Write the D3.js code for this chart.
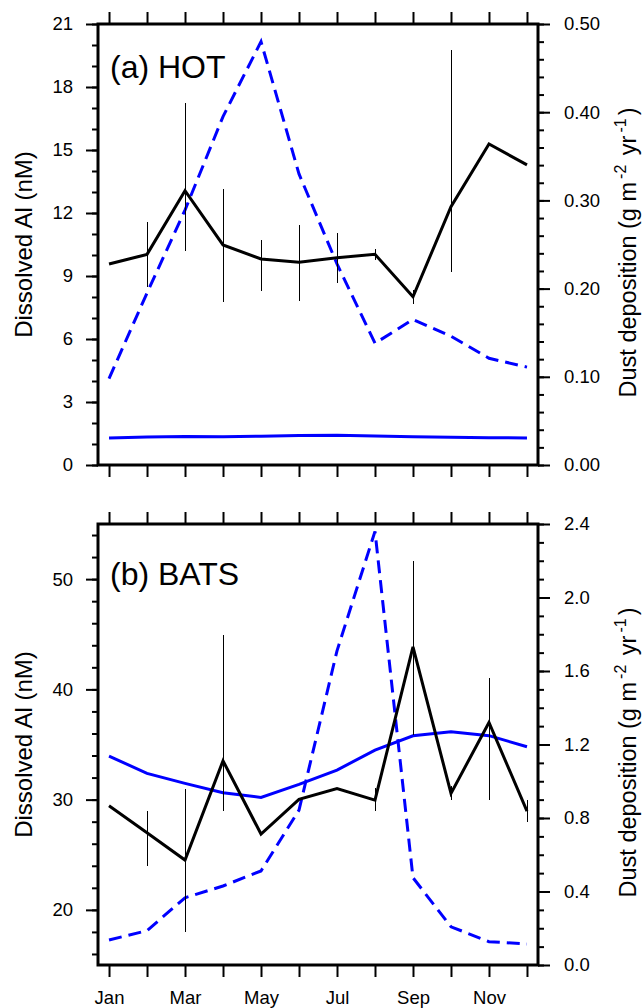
<!DOCTYPE html>
<html><head><meta charset="utf-8">
<script src="https://cdn.jsdelivr.net/npm/d3@7"></script>
<style>
body{margin:0;background:#fff}
text{font-family:"Liberation Sans",Arial,Helvetica,sans-serif;fill:#000}
</style>
</head><body><svg id="c" width="642" height="1008"></svg>
<script>
// ---------------- data ----------------
const months = [1,2,3,4,5,6,7,8,9,10,11,12];
const monthNames = ["Jan","Feb","Mar","Apr","May","Jun","Jul","Aug","Sep","Oct","Nov","Dec"];
const xLabelMonths = [1,3,5,7,9,11];

// (a) HOT
const hotObsAl  = [9.57,10.03,13.06,10.48,9.81,9.65,9.87,10.03,8.01,12.30,15.29,14.29];
const hotErrLo  = [null,8.46,10.19,7.78,8.29,7.82,8.68,9.76,7.67,9.20,null,null];
const hotErrHi  = [null,11.59,17.22,13.14,10.71,11.43,11.03,10.29,8.33,19.76,null,null];
const hotModAl  = [1.28,1.33,1.36,1.34,1.37,1.40,1.42,1.38,1.35,1.32,1.30,1.29];
const hotDust   = [0.098,0.195,0.289,0.395,0.480,0.330,0.228,0.138,0.165,0.146,0.121,0.111];
const hotLeftTicks  = [0,3,6,9,12,15,18,21];
const hotLeftMinor  = d3.range(0,22,1);
const hotRightTicks = [0,0.1,0.2,0.3,0.4,0.5];
const hotRightMinor = d3.range(0,0.5001,0.02);

// (b) BATS
const batsObsAl = [29.44,27.0,24.52,33.52,26.88,30.02,31.0,29.96,43.86,30.57,37.0,28.96];
const batsErrLo = [null,23.98,17.96,28.96,null,null,null,28.96,35.85,29.96,29.96,28.0];
const batsErrHi = [null,28.96,30.96,44.95,null,null,null,31.05,51.6,31.2,41.0,29.96];
const batsModAl = [33.95,32.38,31.47,30.62,30.2,31.38,32.68,34.49,35.79,36.15,35.8,34.8];
const batsDust  = [0.136,0.187,0.366,0.43,0.512,0.843,1.71,2.36,0.475,0.208,0.127,0.114];
const batsLeftTicks  = [20,30,40,50];
const batsLeftMinor  = d3.range(16,55,2);
const batsRightTicks = [0,0.4,0.8,1.2,1.6,2.0,2.4];
const batsRightMinor = d3.range(0,2.4001,0.1);

// ---------------- drawing ----------------
const svg = d3.select("#c");
const X0 = 98, X1 = 538;
const FS = 18.5;
const x = d3.scaleLinear().domain([0.71,12.29]).range([X0,X1]);

function panel(o){
  const g = svg.append("g");
  const yL = d3.scaleLinear().domain(o.leftDomain).range([o.bottom,o.top]);
  const yR = d3.scaleLinear().domain(o.rightDomain).range([o.bottom,o.top]);

  // minor ticks
  const mL = g.append("g").attr("transform",`translate(${X0},0)`)
    .call(d3.axisLeft(yL).tickValues(o.leftMinor).tickSize(6).tickFormat(""));
  const mR = g.append("g").attr("transform",`translate(${X1},0)`)
    .call(d3.axisRight(yR).tickValues(o.rightMinor).tickSize(6).tickFormat(""));
  // major ticks
  const aL = g.append("g").attr("transform",`translate(${X0},0)`)
    .call(d3.axisLeft(yL).tickValues(o.leftTicks).tickSize(12).tickPadding(13).tickFormat(d3.format("d")));
  const aR = g.append("g").attr("transform",`translate(${X1},0)`)
    .call(d3.axisRight(yR).tickValues(o.rightTicks).tickSize(12).tickPadding(14).tickFormat(d3.format(o.rightFmt)));
  const aT = g.append("g").attr("transform",`translate(0,${o.top})`)
    .call(d3.axisTop(x).tickValues(months).tickSize(12).tickFormat(""));
  const aB = g.append("g").attr("transform",`translate(0,${o.bottom})`)
    .call(d3.axisBottom(x).tickValues(months).tickSize(12).tickPadding(14)
      .tickFormat(d => o.xLabels && xLabelMonths.includes(d) ? monthNames[d-1] : ""));
  [mL,mR,aL,aR,aT,aB].forEach(a=>{
    a.select(".domain").remove();
    a.selectAll("line").attr("stroke","#000").attr("stroke-width",2);
    a.selectAll("text").attr("font-size",FS).attr("font-family",'"Liberation Sans",Arial,sans-serif').attr("fill","#000");
  });

  // dust dashed (right axis)
  g.append("path").datum(o.dust)
    .attr("fill","none").attr("stroke","#0000ff").attr("stroke-width",3)
    .attr("stroke-dasharray","13,7")
    .attr("d", d3.line().x((d,i)=>x(months[i])).y(d=>yR(d)));
  // model Al (left axis)
  g.append("path").datum(o.mod)
    .attr("fill","none").attr("stroke","#0000ff").attr("stroke-width",3)
    .attr("d", d3.line().x((d,i)=>x(months[i])).y(d=>yL(d)));
  // observed Al
  g.append("path").datum(o.obs)
    .attr("fill","none").attr("stroke","#000").attr("stroke-width",3).attr("stroke-linejoin","miter")
    .attr("d", d3.line().x((d,i)=>x(months[i])).y(d=>yL(d)));
  // error bars
  months.forEach((m,i)=>{
    if(o.lo[i]==null) return;
    const xx = Math.round(x(m)) + 0.5;
    g.append("line").attr("x1",xx).attr("x2",xx)
      .attr("y1",yL(o.lo[i])).attr("y2",yL(o.hi[i]))
      .attr("stroke","#000").attr("stroke-width",1).attr("shape-rendering","crispEdges");
  });

  // frame
  g.append("rect").attr("x",X0).attr("y",o.top).attr("width",X1-X0).attr("height",o.bottom-o.top)
    .attr("fill","none").attr("stroke","#000").attr("stroke-width",3);

  // panel label
  g.append("text").attr("x",110).attr("y",o.labelY).attr("font-size",32).text(o.label);

  // axis titles
  const cy = (o.top+o.bottom)/2;
  g.append("text").attr("transform",`translate(32,${cy}) rotate(-90)`)
    .attr("text-anchor","middle").attr("font-size",24).text("Dissolved Al (nM)");
  const rt = g.append("text").attr("transform",`translate(636,${cy+8}) rotate(-90)`)
    .attr("text-anchor","middle").attr("font-size",23.5);
  rt.append("tspan").text("Dust deposition (g m");
  rt.append("tspan").attr("font-size",16).attr("dx",3).attr("dy",-10).text("-2");
  rt.append("tspan").attr("dx",3).attr("dy",10).text(" yr");
  rt.append("tspan").attr("font-size",16).attr("dx",3).attr("dy",-10).text("-1");
  rt.append("tspan").attr("dx",3).attr("dy",10).text(")");
}

panel({top:24,bottom:465,leftDomain:[0,21],rightDomain:[0,0.5],
  leftTicks:hotLeftTicks,leftMinor:hotLeftMinor,rightTicks:hotRightTicks,rightMinor:hotRightMinor,
  rightFmt:".2f",obs:hotObsAl,lo:hotErrLo,hi:hotErrHi,mod:hotModAl,dust:hotDust,
  label:"(a) HOT",labelY:78,xLabels:false});
panel({top:524,bottom:965,leftDomain:[15,55],rightDomain:[0,2.4],
  leftTicks:batsLeftTicks,leftMinor:batsLeftMinor,rightTicks:batsRightTicks,rightMinor:batsRightMinor,
  rightFmt:".1f",obs:batsObsAl,lo:batsErrLo,hi:batsErrHi,mod:batsModAl,dust:batsDust,
  label:"(b) BATS",labelY:585,xLabels:true});
</script>
</body></html>
